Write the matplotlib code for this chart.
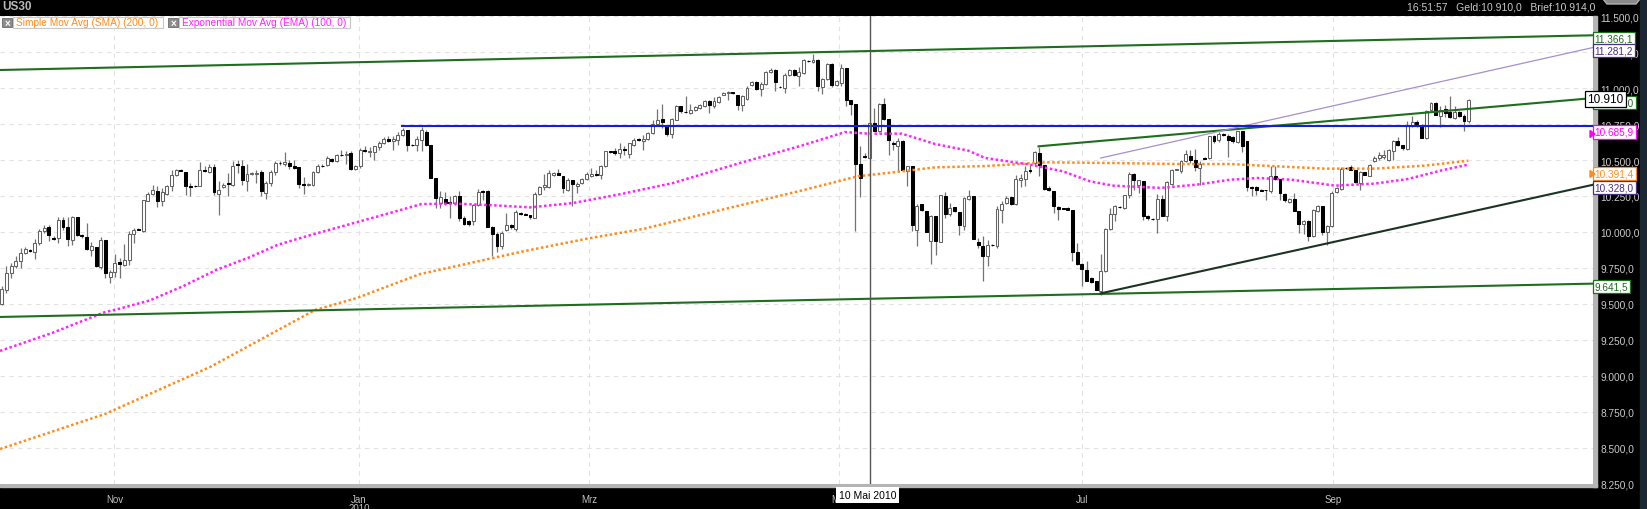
import matplotlib
matplotlib.use("Agg")
import matplotlib.pyplot as plt
from matplotlib.patches import Rectangle, Polygon
from matplotlib.ticker import FuncFormatter

plt.rcParams['font.family'] = ['Liberation Sans', 'DejaVu Sans']

# daily candles US30, one entry per bar (index 0 .. 311)
opens = [9502, 9595, 9715, 9762, 9801, 9854, 9877, 9863, 9924, 10009, 10032, 9961, 9958, 10086, 10035, 9947, 10104, 9977, 9965, 9878,
         9896, 9755, 9947, 9687, 9722, 9794, 9773, 9803, 9986, 10023, 10005, 10218, 10264, 10287, 10213, 10264, 10317, 10394, 10433, 10419,
         10319, 10319, 10317, 10428, 10414, 10454, 10264, 10312, 10338, 10329, 10470, 10461, 10352,
         10403, 10405, 10414, 10271, 10340, 10417, 10481, 10475, 10481, 10458, 10449, 10333, 10329, 10329, 10417, 10461, 10465, 10507, 10495, 10537,
         10535, 10549, 10440, 10456, 10572, 10553, 10553, 10590, 10618, 10648, 10630, 10641, 10676, 10706, 10606, 10602, 10641, 10694, 10606, 10375,
         10201, 10231, 10206, 10201, 10252, 10097, 10078, 10078, 10185, 10282, 10282, 10032, 9986, 9900,
         10016, 10051, 10023, 10132, 10128, 10116, 10100, 10266, 10310, 10315, 10398, 10410, 10387, 10294, 10359, 10322, 10340, 10370, 10387, 10405,
         10394, 10456, 10560, 10560, 10547, 10574, 10540, 10605, 10645, 10630, 10645, 10685, 10752, 10785, 10734, 10680, 10780, 10873, 10835, 10826,
         10850, 10859, 10873, 10907, 10873, 10903, 10954, 10963, 10970, 10954,
         10880, 10926, 11018, 11042, 10993, 11028, 11109, 11127, 11010, 11000, 11088, 11125, 11081, 11104, 11190, 11178, 11197, 11007, 11062, 11169,
         11018, 11035, 11141, 10919, 10891, 10475, 10525, 10514, 10757, 10699, 10891, 10787, 10615, 10600, 10634, 10421, 10460, 10016, 10194, 10148,
         9935, 10113, 9930, 10248, 10127, 10171, 10141, 10044, 10229, 10252, 9933, 9905,
         9831, 9912, 9900, 10155, 10204, 10243, 10194, 10363, 10370, 10433, 10479, 10549, 10468, 10305, 10287, 10174, 10166, 10166, 10155, 9859,
         9780, 9734, 9680, 9657, 9588, 9727, 10023, 10127, 10176, 10166, 10259, 10405, 10324, 10356, 10113, 10092, 10090, 10229, 10113, 10336,
         10433, 10421, 10491, 10530, 10502, 10444, 10513, 10514, 10664, 10636, 10678, 10669,
         10657, 10623, 10699, 10630, 10312, 10312, 10294, 10290, 10282, 10387, 10368, 10266, 10208, 10231, 10143, 10055, 10074, 9970, 10143, 10178,
         9998, 10039, 10275, 10299, 10446, 10449, 10433, 10340, 10414, 10391, 10491, 10514, 10521, 10498, 10560, 10630, 10602, 10579, 10734, 10762,
         10745, 10653, 10850, 10896, 10808, 10854, 10833, 10792, 10833, 10808, 10769]
highs = [9623, 9762, 9785, 9831, 9887, 9894, 9882, 9951, 10020, 10051, 10051, 9975, 10104, 10104, 10104, 10113, 10104, 9986, 10062, 9928,
         9896, 9965, 9947, 9738, 9850, 9819, 9919, 10005, 10028, 10025, 10224, 10275, 10329, 10317, 10306, 10329, 10433, 10437, 10435, 10419,
         10340, 10329, 10486, 10456, 10472, 10472, 10352, 10340, 10410, 10491, 10502, 10502, 10472,
         10414, 10430, 10433, 10352, 10433, 10491, 10491, 10553, 10498, 10502, 10449, 10382, 10340, 10426, 10475, 10470, 10525, 10514, 10544, 10567,
         10560, 10560, 10468, 10583, 10595, 10590, 10600, 10630, 10657, 10664, 10664, 10692, 10722, 10711, 10611, 10664, 10729, 10711, 10606, 10375,
         10282, 10275, 10248, 10257, 10282, 10109, 10086, 10194, 10299, 10294, 10294, 10039, 10000, 10010,
         10132, 10058, 10155, 10140, 10132, 10120, 10280, 10320, 10400, 10430, 10420, 10440, 10387, 10375, 10359, 10350, 10375, 10420, 10445, 10433,
         10468, 10565, 10565, 10585, 10615, 10600, 10615, 10655, 10655, 10675, 10697, 10775, 10855, 10890, 10734, 10790, 10880, 10873, 10942, 10890,
         10873, 10892, 10915, 10915, 10935, 10942, 10970, 10980, 10975, 10954,
         10954, 11012, 11051, 11046, 11040, 11116, 11139, 11132, 11012, 11104, 11132, 11132, 11144, 11204, 11195, 11238, 11200, 11070, 11174, 11174,
         11053, 11167, 11141, 10919, 10891, 10600, 10549, 10762, 10861, 10896, 10930, 10787, 10634, 10653, 10641, 10460, 10460, 10197, 10194, 10148,
         10116, 10113, 10260, 10278, 10201, 10171, 10141, 10243, 10294, 10252, 9958, 9970,
         9947, 9915, 10178, 10213, 10248, 10252, 10394, 10405, 10456, 10468, 10560, 10590, 10468, 10317, 10287, 10178, 10170, 10172, 10155, 9924,
         9785, 9796, 9685, 9657, 9847, 10027, 10166, 10190, 10180, 10259, 10414, 10410, 10363, 10356, 10118, 10095, 10264, 10259, 10352, 10437,
         10440, 10502, 10572, 10572, 10576, 10490, 10520, 10669, 10676, 10697, 10685, 10683,
         10664, 10704, 10704, 10630, 10317, 10317, 10298, 10294, 10461, 10461, 10368, 10271, 10236, 10271, 10143, 10086, 10081, 10160, 10190, 10178,
         10051, 10282, 10312, 10449, 10451, 10468, 10433, 10421, 10419, 10475, 10525, 10558, 10572, 10576, 10641, 10657, 10607, 10768, 10803, 10780,
         10750, 10850, 10900, 10900, 10877, 10884, 10942, 10877, 10838, 10820, 10924]
lows = [9495, 9576, 9680, 9750, 9750, 9850, 9861, 9812, 9912, 9993, 9940, 9944, 9924, 10016, 9900, 9912, 9975, 9958, 9873, 9831,
        9757, 9743, 9680, 9646, 9687, 9680, 9762, 9773, 9924, 10014, 9998, 10213, 10259, 10171, 10183, 10259, 10287, 10387, 10421, 10255,
        10252, 10312, 10317, 10414, 10410, 10259, 10120, 10306, 10252, 10317, 10410, 10329, 10283,
        10394, 10340, 10252, 10229, 10317, 10398, 10468, 10461, 10437, 10437, 10305, 10266, 10322, 10317, 10410, 10449, 10456, 10486, 10484, 10525,
        10475, 10433, 10433, 10444, 10553, 10521, 10502, 10567, 10611, 10623, 10567, 10607, 10669, 10565, 10595, 10560, 10560, 10595, 10375, 10167,
        10167, 10190, 10097, 10190, 10074, 10051, 10044, 10051, 10178, 10222, 10032, 9831, 9860, 9880,
        10010, 10020, 10010, 10120, 10116, 10090, 10100, 10255, 10290, 10305, 10392, 10394, 10270, 10283, 10178, 10270, 10336, 10363, 10383, 10387,
        10370, 10450, 10552, 10535, 10515, 10535, 10515, 10600, 10630, 10570, 10638, 10680, 10743, 10720, 10670, 10655, 10775, 10828, 10828, 10817,
        10843, 10852, 10866, 10826, 10858, 10896, 10950, 10920, 10957, 10845,
        10838, 10919, 11012, 10988, 10947, 11018, 11104, 10977, 11003, 10965, 11081, 11086, 11012, 11100, 11182, 11174, 10977, 10958, 11058, 11007,
        11012, 11012, 10873, 10815, 10005, 10241, 10514, 10507, 10699, 10692, 10780, 10532, 10572, 10426, 10428, 10317, 10005, 9900, 10145, 9997,
        9778, 9843, 9928, 10097, 10109, 10136, 9981, 10016, 10224, 9954, 9889, 9660,
        9762, 9905, 9889, 10062, 10197, 10190, 10190, 10312, 10322, 10410, 10461, 10391, 10294, 10282, 10132, 10086, 10158, 10150, 9796, 9773,
        9623, 9657, 9646, 9595, 9565, 9722, 10016, 10074, 10168, 10162, 10236, 10294, 10271, 10086, 10086, 10086, 9993, 10109, 10074, 10329,
        10428, 10410, 10484, 10479, 10426, 10329, 10505, 10509, 10618, 10627, 10670, 10521,
        10618, 10618, 10553, 10282, 10252, 10259, 10283, 10220, 10271, 10363, 10224, 10206, 10201, 10143, 9993, 9988, 9935, 9965, 10136, 9981,
        9912, 10032, 10271, 10294, 10437, 10428, 10340, 10294, 10394, 10387, 10484, 10498, 10509, 10491, 10502, 10595, 10567, 10572, 10727, 10727,
        10650, 10646, 10845, 10810, 10727, 10796, 10792, 10785, 10799, 10704, 10759]
closes = [9604, 9715, 9766, 9801, 9854, 9884, 9868, 9924, 10009, 10028, 9977, 9954, 10086, 10032, 9954, 10104, 9977, 9970, 9882, 9901,
          9762, 9947, 9715, 9724, 9785, 9775, 9803, 9988, 10016, 10016, 10220, 10266, 10294, 10213, 10275, 10322, 10398, 10428, 10426, 10317,
          10312, 10317, 10428, 10421, 10451, 10275, 10294, 10329, 10331, 10461, 10468, 10359, 10405,
          10410, 10412, 10282, 10340, 10417, 10479, 10477, 10486, 10456, 10447, 10336, 10329, 10333, 10419, 10461, 10456, 10514, 10495, 10535, 10532,
          10541, 10440, 10461, 10572, 10560, 10565, 10595, 10618, 10648, 10630, 10646, 10676, 10711, 10606, 10602, 10648, 10711, 10606, 10375, 10236,
          10241, 10201, 10199, 10252, 10097, 10058, 10058, 10185, 10278, 10278, 10032, 9986, 9900, 9990,
          10051, 10032, 10139, 10125, 10120, 10102, 10266, 10315, 10324, 10410, 10410, 10398, 10305, 10363, 10331, 10336, 10370, 10405, 10405, 10394,
          10456, 10560, 10556, 10547, 10574, 10570, 10615, 10641, 10636, 10645, 10690, 10752, 10780, 10762, 10680, 10784, 10873, 10840, 10830, 10850,
          10866, 10885, 10907, 10885, 10907, 10938, 10965, 10975, 10963, 10885,
          10942, 11000, 11042, 10995, 11028, 11111, 11125, 11039, 11005, 11093, 11125, 11093, 11111, 11197, 11185, 11197, 11012, 11065, 11169, 11023,
          11046, 11141, 10919, 10891, 10475, 10375, 10520, 10757, 10699, 10891, 10787, 10637, 10610, 10634, 10428, 10456, 10046, 10178, 10150, 10000,
          10113, 9935, 10255, 10127, 10166, 10143, 10046, 10236, 10248, 9954, 9907, 9831,
          9912, 9907, 10160, 10194, 10234, 10194, 10370, 10375, 10426, 10421, 10553, 10468, 10301, 10294, 10178, 10162, 10162, 10155, 9859, 9780,
          9743, 9657, 9650, 9600, 9727, 10023, 10127, 10178, 10171, 10255, 10405, 10359, 10359, 10113, 10097, 10090, 10229, 10113, 10345, 10433,
          10437, 10491, 10542, 10502, 10451, 10474, 10509, 10664, 10634, 10680, 10675, 10641,
          10630, 10699, 10595, 10312, 10305, 10294, 10287, 10289, 10387, 10368, 10271, 10220, 10231, 10143, 10058, 10076, 9975, 10155, 10178, 9998,
          10039, 10271, 10305, 10440, 10442, 10433, 10347, 10414, 10398, 10465, 10514, 10535, 10537, 10567, 10630, 10607, 10583, 10738, 10762, 10750,
          10653, 10843, 10896, 10815, 10850, 10826, 10796, 10833, 10803, 10769, 10915]

# moving averages (bar index, value)
sma_x = [-0.36, 21.9, 44.2, 66.4, 75.3, 88.7, 110.9, 124.3, 135.9, 156.5, 169.7, 181.5, 190.8, 197.9, 208.5,
         221.6, 235.6, 249.8, 260.4, 280.5, 291.1, 301.7, 310.9]
sma_y = [8493, 8736, 9063, 9458, 9542, 9708, 9868, 9955, 10021, 10185, 10289, 10387, 10421, 10449, 10458,
         10484, 10479, 10472, 10472, 10440, 10440, 10461, 10495]
ema_x = [-0.36, 10.7, 21.9, 24.7, 31.4, 38.4, 45.6, 52.2, 58.6, 65.7, 79.8, 89.0, 96.1, 104.6, 112.0, 121.1,
         131.7, 142.3, 156.5, 169.6, 178.8, 183.7, 190.8, 197.9, 204.9, 208.5, 218.0, 225.0, 230.7, 235.6,
         245.6, 253.4, 260.4, 266.3, 273.5, 282.7, 291.1, 298.1, 305.3, 310.9]
ema_y = [9174, 9299, 9444, 9465, 9525, 9623, 9738, 9820, 9912, 9981, 10109, 10194, 10197, 10185, 10171, 10201,
         10266, 10340, 10479, 10600, 10694, 10683, 10683, 10611, 10565, 10514, 10468, 10421, 10352, 10322,
         10306, 10329, 10363, 10375, 10363, 10322, 10336, 10368, 10428, 10468]

# drawn trend lines (bar index pairs, price pairs)
top_green = ([-0.36, 337.35], [11125, 11366.1])
low_green = ([-0.36, 337.35], [9410, 9641.5])
mid_green = ([219.8, 337.35], [10595, 10930])
purple_line = ([233.0, 337.35], [10514, 11281.2])
dark_line = ([233.0, 337.35], [9574, 10328.0])
blue_line = ([84.9, 337.35], [10735, 10735])

month_pos = [23.9, 75.7, 124.6, 177.4, 229.1, 282.2]
month_lab = ['Nov', 'Jan', 'Mrz', 'Mai', 'Jul', 'Sep']
cursor_bar = 184

W, H = 1647, 510
fig = plt.figure(figsize=(W / 100, H / 100), dpi=100, facecolor='black')
ax = fig.add_axes([0, (H - 485) / H, 1593 / W, 468 / H], facecolor='white')

ax.set_xlim(-0.36, 337.35)
ax.set_ylim(8250, 11500)

ax.grid(True, color='#e2e2e2', linestyle=(0, (4, 4)), linewidth=0.8, zorder=0)
ax.set_axisbelow(True)

# candles
n = len(closes)
xs = list(range(n))
up = [c >= o for o, c in zip(opens, closes)]
ax.vlines(xs, lows, highs, color='#737373', linewidth=0.9, zorder=2)
bottoms = [min(o, c) for o, c in zip(opens, closes)]
heights = [max(abs(c - o), 2) for o, c in zip(opens, closes)]
ax.bar(xs, heights, bottom=bottoms, width=0.62,
       color=['white' if u else 'black' for u in up],
       edgecolor=['#636363' if u else 'black' for u in up], linewidth=0.75, zorder=3)

# moving averages
ax.plot(sma_x, sma_y, color='#ff8c1a', linewidth=1.8, linestyle=(0, (1, 1)), zorder=4)
ax.plot(ema_x, ema_y, color='#ff22ff', linewidth=1.8, linestyle=(0, (1, 1)), zorder=4)

# trend lines
ax.plot(*top_green, color='#1d6e1d', linewidth=1.5, zorder=5)
ax.plot(*low_green, color='#1d6e1d', linewidth=1.5, zorder=5)
ax.plot(*mid_green, color='#1d6e1d', linewidth=1.5, zorder=5)
ax.plot(*purple_line, color='#a690cc', linewidth=0.9, zorder=5)
ax.plot(*dark_line, color='#1a3322', linewidth=1.5, zorder=5)
ax.plot(*blue_line, color='#1020d8', linewidth=1.5, zorder=5)
ax.axvline(cursor_bar, color='#555555', linewidth=1, zorder=6)

# axes ticks
def de_fmt(v, pos=None):
    s = '{:,.1f}'.format(v)
    return s.replace(',', 'X').replace('.', ',').replace('X', '.')

ax.yaxis.tick_right()
ax.set_yticks(range(8250, 11501, 250))
ax.yaxis.set_major_formatter(FuncFormatter(de_fmt))
ax.tick_params(axis='y', length=0, pad=5.5, labelsize=7.3, labelcolor='#c8c8c8')
ax.set_xticks(month_pos)
ax.set_xticklabels(month_lab)
ax.tick_params(axis='x', length=0, pad=7, labelsize=7, labelcolor='#c0c0c0')
for s in ax.spines.values():
    s.set_visible(False)

# right hand value tags
def tag(val, txt, col, size=7.2, xa=1.001):
    ax.text(xa, val, txt, transform=ax.get_yaxis_transform(), color=col, fontsize=size,
            va='center', ha='left', clip_on=False, zorder=20,
            bbox=dict(boxstyle='square,pad=0.18', fc='white', ec=col, lw=0.9))

tag(11366.1 - 25, de_fmt(11366.1), '#1d6e1d')
tag(11281.2 - 20, de_fmt(11281.2), '#4a2f80')
tag(10930 - 30, de_fmt(10930), '#1d6e1d')
tag(10910 + 15, '10.910', 'black', size=8.5, xa=0.9965)
tag(10685.9 + 10, de_fmt(10685.9), '#ff00ff')
tag(10391.4 + 15, de_fmt(10391.4), '#ff8c1a')
tag(10328.0 - 20, de_fmt(10328.0), '#4a2f80')
tag(9641.5 - 20, de_fmt(9641.5), '#1d6e1d')

# frame pieces (kept below the axes so tags stay on top)
fig.add_artist(Rectangle((1593 / W, (H - 488) / H), 4 / W, 471 / H, color='#b4b4b4',
                         transform=fig.transFigure, zorder=-1))
fig.add_artist(Rectangle((0, (H - 488) / H), 1597 / W, 3 / H, color='#b4b4b4',
                         transform=fig.transFigure, zorder=-1))
fig.add_artist(Rectangle((1640 / W, 0), 7 / W, 1, color='#1b2733', transform=fig.transFigure, zorder=-1))
fig.add_artist(Polygon([(1603 / W, 1), (1607 / W, (H - 5) / H), (1636 / W, (H - 5) / H), (1640 / W, 1)],
                       closed=True, fc='#8a8a8a', ec='#b0b0b0', transform=fig.transFigure))

# small arrow markers beside the magenta and orange tags
for ypix, col in [(135, '#ff00ff'), (175, '#ff8c1a')]:
    fig.add_artist(Polygon([(1590 / W, (H - ypix + 3.5) / H), (1590 / W, (H - ypix - 3.5) / H),
                            (1595 / W, (H - ypix) / H)], closed=True, fc=col, ec=col,
                           transform=fig.transFigure, zorder=5))

# header
fig.text(2 / W, (H - 7) / H, 'US30', color='#b8b8b8', fontsize=8.5, fontweight='bold', va='center', ha='left')
fig.text(1595 / W, (H - 7) / H, '16:51:57   Geld:10.910,0   Brief:10.914,0', color='#c8c8c8',
         fontsize=7.5, va='center', ha='right')

# indicator legend
for x0, x1, label, col in [(2, 163, 'Simple Mov Avg (SMA) (200, 0)', '#ff8c1a'),
                           (168, 350, 'Exponential Mov Avg (EMA) (100, 0)', '#ff22ff')]:
    fig.add_artist(Rectangle(((x0 + 11) / W, (H - 29) / H), (x1 - x0 - 11) / W, 11 / H, fc='white',
                             ec='#c8c8c8', lw=0.8, transform=fig.transFigure))
    fig.add_artist(Rectangle((x0 / W, (H - 28) / H), 10 / W, 9 / H, fc='#8c8c8c', ec='#6a6a6a',
                             lw=0.6, transform=fig.transFigure))
    fig.text((x0 + 5) / W, (H - 23.5) / H, '×', color='white', fontsize=7, fontweight='bold',
             ha='center', va='center')
    fig.text((x0 + 14) / W, (H - 23.5) / H, label, color=col, fontsize=7.3, ha='left', va='center')

# date cursor label and year
fig.text(839 / W, (H - 496) / H, '10 Mai 2010', color='black', fontsize=7.5,
         family=['Liberation Sans Narrow', 'Liberation Sans'], ha='left', va='center',
         bbox=dict(boxstyle='square,pad=0.25', fc='white', ec='none'))
fig.text(359 / W, (H - 509) / H, '2010', color='#c0c0c0', fontsize=7, ha='center', va='center')

fig.savefig('out.png', dpi=100, facecolor='black')
